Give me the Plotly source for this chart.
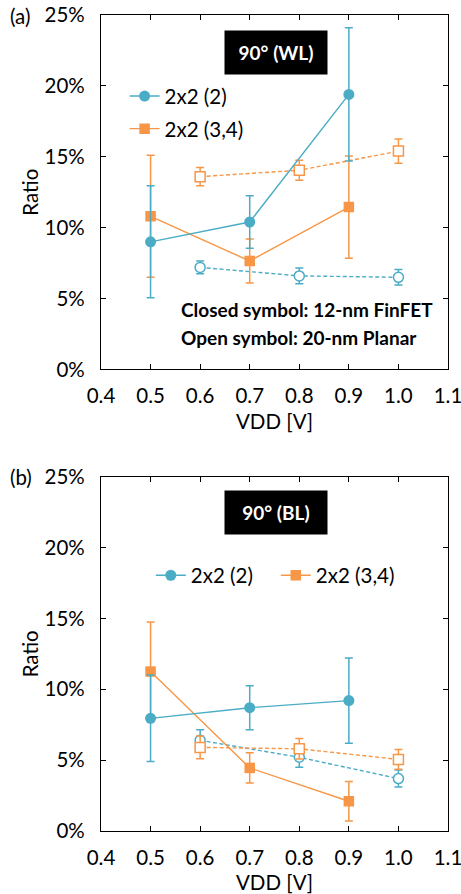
import plotly.graph_objects as go
from plotly.subplots import make_subplots

# ---- data ----
vdd_finfet = [0.5, 0.7, 0.9]
vdd_planar = [0.6, 0.8, 1.0]

# panel (a) 90° (WL)
a_fin_2 = [9.0, 10.4, 19.4]
a_fin_2_err = [3.95, 1.85, 4.7]
a_fin_34 = [10.8, 7.65, 11.45]
a_fin_34_err = [4.3, 1.55, 3.6]
a_pl_2 = [7.2, 6.6, 6.5]
a_pl_2_err = [0.45, 0.55, 0.55]
a_pl_34 = [13.6, 14.05, 15.4]
a_pl_34_err = [0.65, 0.7, 0.85]

# panel (b) 90° (BL)
b_fin_2 = [7.95, 8.7, 9.2]
b_fin_2_err = [3.05, 1.55, 3.0]
b_fin_34 = [11.25, 4.45, 2.1]
b_fin_34_err = [3.5, 1.07, 1.4]
b_pl_2 = [6.4, 5.2, 3.7]
b_pl_2_err = [0.75, 0.7, 0.6]
b_pl_34 = [5.9, 5.8, 5.05]
b_pl_34_err = [0.8, 0.72, 0.7]

x_ticks = [0.4, 0.5, 0.6, 0.7, 0.8, 0.9, 1.0, 1.1]
x_tick_labels = ["0.4", "0.5", "0.6", "0.7", "0.8", "0.9", "1.0", "1.1"]
y_ticks = [0, 5, 10, 15, 20, 25]
y_tick_labels = ["0%", "5%", "10%", "15%", "20%", "25%"]

BLUE = "#4BACC6"
ORANGE = "#F79646"
FONT = "Lato"
FS = 20.5

fig = make_subplots(rows=2, cols=1, vertical_spacing=0.0)


def add_series(row, x, y, err, color, closed, name, legend, group):
    fig.add_trace(go.Scatter(
        x=x, y=y, mode="lines+markers", name=name,
        showlegend=closed, legend=legend, legendgroup=group,
        legendrank=1 if color == BLUE else 2,
        line=dict(color=color, width=1.4, dash=None if closed else "4px,2.5px"),
        marker=dict(
            symbol="circle" if color == BLUE else "square",
            size=(11 if color == BLUE else 10.5) if closed else 10,
            color=color if closed else "white",
            line=dict(color=color, width=0 if closed else 1.5),
        ),
        error_y=dict(type="data", array=err, visible=True,
                     color=color, thickness=1.5, width=4),
    ), row=row, col=1)


# panel (a)
add_series(1, vdd_planar, a_pl_34, a_pl_34_err, ORANGE, False, "2x2 (3,4)", "legend", "a34o")
add_series(1, vdd_planar, a_pl_2, a_pl_2_err, BLUE, False, "2x2 (2)", "legend", "a2o")
add_series(1, vdd_finfet, a_fin_34, a_fin_34_err, ORANGE, True, "2x2 (3,4)", "legend", "a34")
add_series(1, vdd_finfet, a_fin_2, a_fin_2_err, BLUE, True, "2x2 (2)", "legend", "a2")
# panel (b)
add_series(2, vdd_planar, b_pl_2, b_pl_2_err, BLUE, False, "2x2 (2)", "legend2", "b2o")
add_series(2, vdd_planar, b_pl_34, b_pl_34_err, ORANGE, False, "2x2 (3,4)", "legend2", "b34o")
add_series(2, vdd_finfet, b_fin_34, b_fin_34_err, ORANGE, True, "2x2 (3,4)", "legend2", "b34")
add_series(2, vdd_finfet, b_fin_2, b_fin_2_err, BLUE, True, "2x2 (2)", "legend2", "b2")

axis_common = dict(
    showline=True, linecolor="black", linewidth=1.3, mirror="ticks",
    ticks="inside", ticklen=5, tickwidth=1.3, tickcolor="black",
    showgrid=False, zeroline=False, ticklabeloverflow="allow",
    tickfont=dict(family=FONT, size=FS, color="black"),
    title_font=dict(family=FONT, size=FS, color="black"),
)

for r, dom in [(1, [0.5656, 1.0]), (2, [0.0, 0.4342])]:
    fig.update_xaxes(
        range=[0.4, 1.1], tickvals=x_ticks, ticktext=x_tick_labels,
        title_text="VDD [V]", title_standoff=8, ticklabelstandoff=8,
        row=r, col=1, **axis_common)
    fig.update_yaxes(
        range=[0, 25], tickvals=y_ticks, ticktext=y_tick_labels, domain=dom,
        title_text="Ratio", title_standoff=0, ticklabelstandoff=11,
        row=r, col=1, **axis_common)

fig.update_xaxes(domain=[0, 1])

# annotations
box = dict(font=dict(family=FONT, size=19, color="white"),
           bgcolor="black", width=100, height=41, showarrow=False,
           xanchor="center", yanchor="middle")
fig.add_annotation(text="<b>90° (WL)</b>", x=0.754, y=22.36, xref="x", yref="y", **box)
fig.add_annotation(text="<b>90° (BL)</b>", x=0.754, y=22.44, xref="x2", yref="y2", **box)

note_font = dict(family=FONT, size=19, color="black")
fig.add_annotation(text="<b>Closed symbol: 12-nm FinFET</b>", x=0.558, y=4.2,
                   xref="x", yref="y", xanchor="left", yanchor="middle",
                   showarrow=False, font=note_font)
fig.add_annotation(text="<b>Open symbol: 20-nm Planar</b>", x=0.558, y=2.24,
                   xref="x", yref="y", xanchor="left", yanchor="middle",
                   showarrow=False, font=note_font)

panel_font = dict(family=FONT, size=FS, color="black")
fig.add_annotation(text="(a)", x=-0.267, y=0.9988, xref="paper", yref="paper",
                   xanchor="left", yanchor="middle", showarrow=False, font=panel_font)
fig.add_annotation(text="(b)", x=-0.267, y=0.4338, xref="paper", yref="paper",
                   xanchor="left", yanchor="middle", showarrow=False, font=panel_font)

fig.update_layout(
    width=461, height=894,
    margin=dict(l=101, r=12.5, t=15, b=63, autoexpand=False),
    paper_bgcolor="white", plot_bgcolor="white",
    font=dict(family=FONT, size=FS, color="black"),
    legend=dict(x=0.068, y=0.925, xanchor="left", yanchor="top",
                orientation="v", traceorder="grouped", tracegroupgap=3,
                bgcolor="rgba(0,0,0,0)", font=dict(family=FONT, size=FS)),
    legend2=dict(x=0.1435, y=0.3377, xanchor="left", yanchor="top",
                 orientation="h", traceorder="normal",
                 entrywidth=80, entrywidthmode="pixels",
                 bgcolor="rgba(0,0,0,0)", font=dict(family=FONT, size=FS)),
)

fig.write_html("out.html")
